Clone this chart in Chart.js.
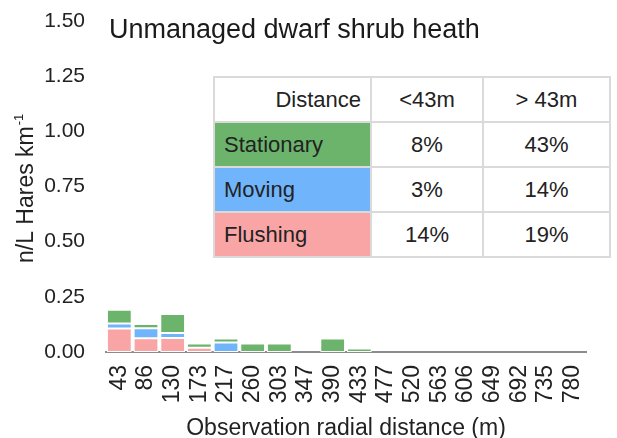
<!DOCTYPE html>
<html>
<head>
<meta charset="utf-8">
<script src="https://cdn.jsdelivr.net/npm/chart.js@4/dist/chart.umd.min.js"></script>
<style>
  html, body { margin: 0; padding: 0; background: #fff; }
  #wrap { position: relative; width: 617px; height: 438px; }
  #c { position: absolute; left: 0; top: 0; }
  #tbl {
    position: absolute; left: 213px; top: 76px;
    border-collapse: collapse; font-family: "Liberation Sans", Arial, sans-serif;
    font-size: 22px; color: #222; background: #fff;
  }
  #tbl td { border: 2px solid #dadada; height: 43px; padding: 0 9px; }
  #tbl td.h { text-align: right; }
  #tbl td.v { text-align: center; }
</style>
</head>
<body>
<div id="wrap">
  <canvas id="c" width="617" height="438"></canvas>
  <table id="tbl">
    <colgroup><col style="width:157px"><col style="width:112px"><col style="width:127px"></colgroup>
    <tr><td class="h">Distance</td><td class="v">&lt;43m</td><td class="v">&gt; 43m</td></tr>
    <tr><td style="background:#6cb46c">Stationary</td><td class="v">8%</td><td class="v">43%</td></tr>
    <tr><td style="background:#70b5fc">Moving</td><td class="v">3%</td><td class="v">14%</td></tr>
    <tr><td style="background:#faa5a5">Flushing</td><td class="v">14%</td><td class="v">19%</td></tr>
  </table>
</div>
<script>
// ---- data ----
const categories = ['43','86','130','173','217','260','303','347','390','433','477','520','563','606','649','692','735','780'];
const flushing   = [0.107, 0.062, 0.064, 0.019, 0, 0, 0, 0, 0, 0, 0, 0, 0, 0, 0, 0, 0, 0];
const moving     = [0.022, 0.046, 0.022, 0, 0.043, 0, 0, 0, 0, 0, 0, 0, 0, 0, 0, 0, 0, 0];
const stationary = [0.062, 0.019, 0.086, 0.019, 0.018, 0.038, 0.038, 0, 0.061, 0.016, 0, 0, 0, 0, 0, 0, 0, 0];
const yTickValues = [0, 0.25, 0.5, 0.75, 1.0, 1.25, 1.5];
const chartTitle = 'Unmanaged dwarf shrub heath';
const xTitle = 'Observation radial distance (m)';
const yTitleMain = 'n/L Hares km';
const yTitleSup = '-1';

const FONT = '"Liberation Sans", Arial, sans-serif';
const colors = { flushing: '#faa5a5', moving: '#70b5fc', stationary: '#6cb46c' };

const overlayText = {
  id: 'overlayText',
  afterDraw(chart) {
    const ctx = chart.ctx;
    const a = chart.chartArea;
    ctx.save();
    ctx.fillStyle = '#1a1a1a';
    ctx.font = '27px ' + FONT;
    ctx.textAlign = 'left';
    ctx.textBaseline = 'alphabetic';
    ctx.fillText(chartTitle, a.left + 3, 38);
    // y axis title (rotated, with superscript)
    ctx.translate(33, 263);
    ctx.rotate(-Math.PI / 2);
    ctx.fillStyle = '#222';
    ctx.font = '23px ' + FONT;
    ctx.fillText(yTitleMain, 0, 0);
    const w = ctx.measureText(yTitleMain).width;
    ctx.font = '13px ' + FONT;
    ctx.fillText(yTitleSup, w + 1, -10);
    ctx.restore();
  }
};

new Chart(document.getElementById('c'), {
  type: 'bar',
  data: {
    labels: categories,
    datasets: [
      { label: 'Flushing', data: flushing, backgroundColor: colors.flushing },
      { label: 'Moving', data: moving, backgroundColor: colors.moving },
      { label: 'Stationary', data: stationary, backgroundColor: colors.stationary }
    ]
  },
  options: {
    responsive: false,
    animation: false,
    devicePixelRatio: 1,
    layout: { padding: { top: 21, right: 31, left: 0, bottom: 0 } },
    datasets: {
      bar: {
        borderColor: '#ffffff', borderWidth: 1, borderSkipped: false,
        barPercentage: 0.93, categoryPercentage: 1.0
      }
    },
    plugins: { legend: { display: false }, tooltip: { enabled: false } },
    scales: {
      x: {
        stacked: true,
        z: 1,
        grid: { display: false, drawTicks: false },
        border: { display: true, color: '#8c8c8c', width: 2 },
        ticks: {
          minRotation: 90, maxRotation: 90, autoSkip: false, padding: 13,
          color: '#222', font: { family: FONT, size: 23 }
        },
        title: {
          display: true, text: xTitle, color: '#222',
          font: { family: FONT, size: 23 }, padding: { top: 0, bottom: -4 }
        },
        afterFit(s) { s.height = 86; }
      },
      y: {
        stacked: true,
        min: 0, max: 1.5,
        grid: { display: false, drawTicks: true, tickLength: 21, tickColor: 'rgba(0,0,0,0)' },
        border: { display: false },
        afterBuildTicks(s) { s.ticks = yTickValues.map(v => ({ value: v })); },
        ticks: {
          padding: 0, color: '#222', font: { family: FONT, size: 21 },
          callback: v => Number(v).toFixed(2)
        },
        afterFit(s) { s.width = 106; }
      }
    }
  },
  plugins: [overlayText]
});
</script>
</body>
</html>
